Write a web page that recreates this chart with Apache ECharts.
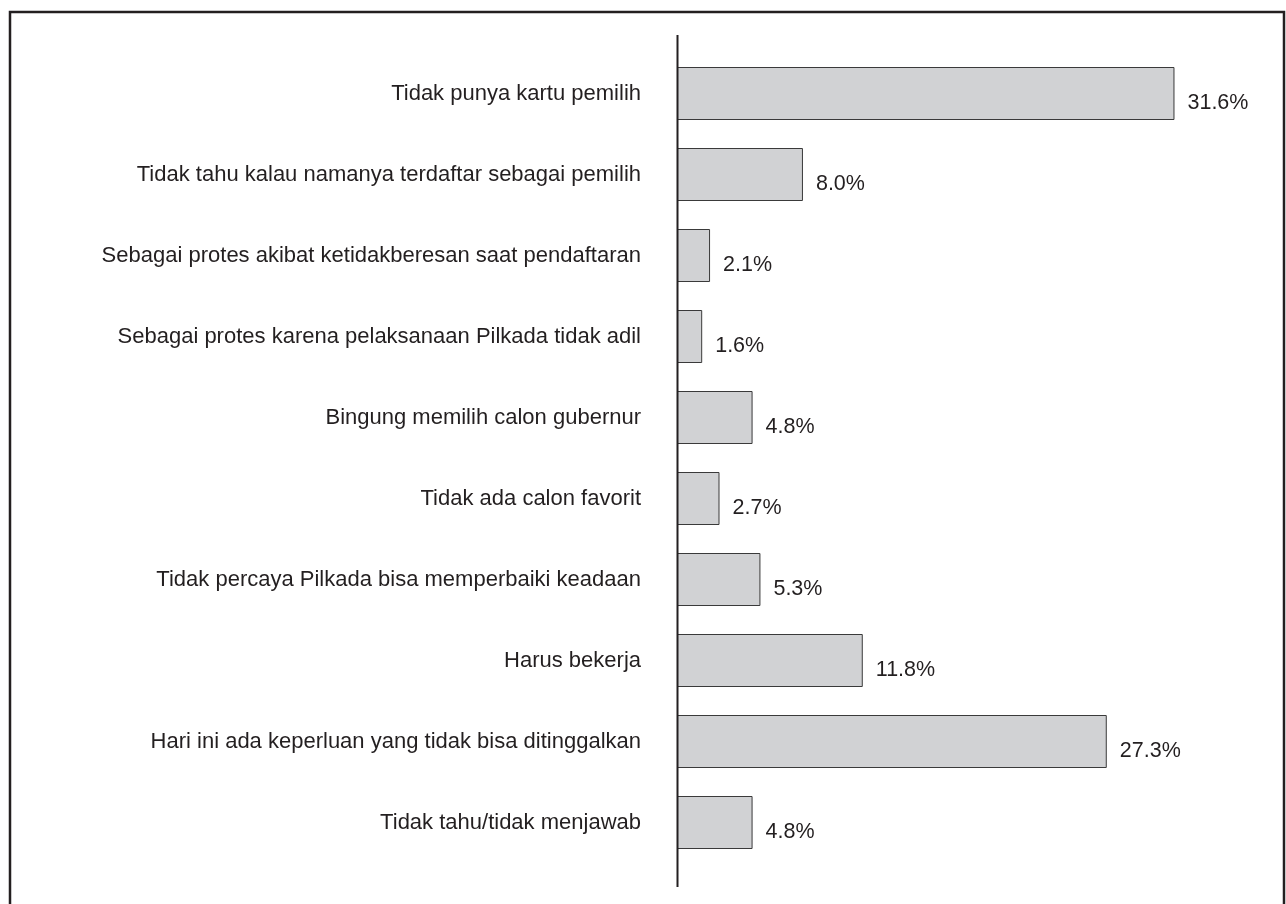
<!DOCTYPE html>
<html>
<head>
<meta charset="utf-8">
<script src="https://cdn.jsdelivr.net/npm/echarts@6/dist/echarts.min.js"></script>
<style>
  html, body { margin: 0; padding: 0; background: #fff; }
  #chart { width: 1286px; height: 904px; }
</style>
</head>
<body>
<div id="chart"></div>
<script>
// kategori alasan tidak memilih (urut dari atas)
var categories = [
  'Tidak punya kartu pemilih',
  'Tidak tahu kalau namanya terdaftar sebagai pemilih',
  'Sebagai protes akibat ketidakberesan saat pendaftaran',
  'Sebagai protes karena pelaksanaan Pilkada tidak adil',
  'Bingung memilih calon gubernur',
  'Tidak ada calon favorit',
  'Tidak percaya Pilkada bisa memperbaiki keadaan',
  'Harus bekerja',
  'Hari ini ada keperluan yang tidak bisa ditinggalkan',
  'Tidak tahu/tidak menjawab'
]
// persentase
var percents = [31.6, 8.0, 2.1, 1.6, 4.8, 2.7, 5.3, 11.8, 27.3, 4.8]

var chart = echarts.init(document.getElementById('chart'))
var option = {
  animation: false,
  textStyle: {
    fontFamily: 'Liberation Sans, Arial, sans-serif',
    color: '#231f20'
  },
  grid: {
    left: 677,
    right: 58,
    top: 53,
    bottom: 41
  },
  xAxis: {
    type: 'value',
    min: 0,
    max: 35,
    show: false
  },
  yAxis: {
    type: 'category',
    inverse: true,
    data: categories,
    axisLine: { show: false },
    axisTick: { show: false },
    axisLabel: {
      margin: 36,
      fontSize: 22,
      color: '#231f20',
      padding: [0, 0, 8, 0]
    }
  },
  series: [
    {
      type: 'bar',
      data: percents,
      barWidth: 53,
      itemStyle: {
        color: '#d1d2d4',
        borderColor: '#3a3a3a',
        borderWidth: 1
      },
      label: {
        show: true,
        position: 'right',
        distance: 13,
        offset: [0, 10],
        fontSize: 21.5,
        color: '#231f20',
        formatter: function(p) {
          return p.value.toFixed(1) + '%'
        }
      }
    }
  ],
  graphic: [
    // bingkai
    {
      type: 'rect',
      shape: { x: 10, y: 12, width: 1274, height: 920 },
      style: { fill: 'none', stroke: '#231f20', lineWidth: 2.5 },
      silent: true
    },
    // garis sumbu vertikal
    {
      type: 'line',
      shape: { x1: 677.5, y1: 35, x2: 677.5, y2: 887 },
      style: { stroke: '#231f20', lineWidth: 2 },
      z: 10,
      silent: true
    }
  ]
}
chart.setOption(option)
</script>
</body>
</html>
